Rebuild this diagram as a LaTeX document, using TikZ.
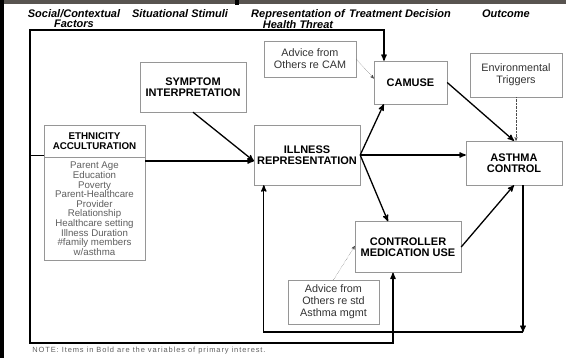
\documentclass[tikz,border=0pt]{standalone}
\usepackage{fontspec}
\setmainfont{Liberation Sans}
\newfontfamily\notefont[LetterSpace=12]{Liberation Sans}
\usetikzlibrary{arrows,positioning}
\definecolor{boxgray}{RGB}{150,150,150}
\definecolor{bodygray}{RGB}{95,95,95}
\definecolor{bandgray}{RGB}{88,84,80}

\begin{document}
\begin{tikzpicture}[x=1pt,y=-1pt,>=stealth',semithick]
  \tikzstyle{box}=[draw=boxgray,thin,fill=white,align=center,inner sep=0pt,font=\bfseries\fontsize{11}{11.5}\selectfont]
  \tikzstyle{advice}=[box,font=\fontsize{10.8}{12}\selectfont,text=black!80]
  \tikzstyle{head}=[align=center,font=\bfseries\itshape\fontsize{11}{10}\selectfont]
  \tikzstyle{link}=[->,line width=1.3pt]
  \tikzstyle{hint}=[->,densely dotted,black!70,thin]

  \useasboundingbox (0,0) rectangle (566,358);
  \fill[bandgray] (0,0) rectangle (566,4.5);
  \fill[black] (235,0) rectangle (239,5);
  \fill[black] (0,0) rectangle (3.5,358);

  % column headings
  \node[head] (hsoc) at (74,19)  {Social/Contextual\\Factors};
  \node[head] (hsit) at (180,14) {Situational Stimuli};
  \node[head] (hrep) at (298,19) {Representation of\\Health Threat};
  \node[head] (htre) at (400,14) {Treatment Decision};
  \node[head] (hout) at (506,14) {Outcome};

  % boxes
  \node[box,minimum width=101,minimum height=32,font=\bfseries\fontsize{9.8}{10}\selectfont]
    (eth) at (94.5,141) {ETHNICITY\\ACCULTURATION};
  \node[box,minimum width=101,minimum height=103,font=\fontsize{9.7}{9.6}\selectfont,text=bodygray]
    (ethbody) [below=0pt of eth] {Parent Age\\Education\\Poverty\\Parent-Healthcare\\Provider\\Relationship\\Healthcare setting\\Illness Duration\\\#family members\\w/asthma};
  \node[box,minimum width=106,minimum height=50] (symptom) at (193,87) {SYMPTOM\\INTERPRETATION};
  \node[box,minimum width=106,minimum height=60] (illness) at (307,155) {ILLNESS\\REPRESENTATION};
  \node[advice,minimum width=92,minimum height=36] (advcam) at (310,59) {Advice from\\Others re CAM};
  \node[box,minimum width=73,minimum height=43] (camuse) at (410.5,82.5) {CAMUSE};
  \node[advice,minimum width=92,minimum height=44] (env) at (516,75) {Environmental\\Triggers};
  \node[box,minimum width=96,minimum height=44] (asthma) at (514,163) {ASTHMA\\CONTROL};
  \node[box,minimum width=106,minimum height=51] (controller) at (408,247) {CONTROLLER\\MEDICATION USE};
  \node[advice,minimum width=91,minimum height=44] (advstd) at (333.5,302) {Advice from\\Others re std\\Asthma mgmt};

  \node[anchor=west,inner sep=0pt,text=bodygray,font=\notefont\fontsize{7.5}{8}\selectfont]
    (note) at (32,351) {NOTE: Items in Bold are the variables of primary interest.};

  % loop corners
  \coordinate (lp) at (30,154.5);
  \coordinate (tl) at (30,30);
  \coordinate (bl) at (30,343);
  \coordinate (fbr) at (523,332);
  \coordinate (inl) at ([yshift=-6pt]illness.west);

  \path[link]
  (symptom.south) edge (inl)
  (ethbody.east |- inl) edge (inl)
  (illness.east) edge ([xshift=10pt]camuse.south west)
  (illness.east) edge (asthma.west |- illness.east)
  (illness.east) edge ([xshift=-20pt]controller.north)
  (camuse.east) edge (asthma.north)
  (controller.east) edge (asthma.south);

  \path[hint]
  (advcam.east) edge ([yshift=4pt]camuse.west)
  (env.south) edge (env.south |- asthma.north)
  (advstd.north) edge ([yshift=1pt]controller.west);

  % feedback loops
  \draw[double,double distance=2pt,thin] (eth.west |- lp) -- (lp);
  \draw[link] (lp) -- (tl) -| ([xshift=-26.5pt]camuse.north);
  \draw[link] (lp) -- (bl) -| ([xshift=-15pt]controller.south);
  \draw[link] ([xshift=9pt]asthma.south) -- (fbr);
  \draw[link] (fbr) -| ([xshift=10pt]illness.south west);
\end{tikzpicture}
\end{document}
